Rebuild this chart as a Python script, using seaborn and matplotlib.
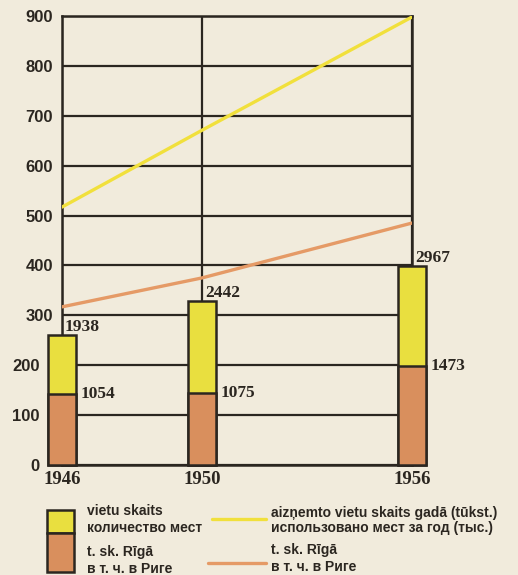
import matplotlib
matplotlib.use("Agg")
import matplotlib.pyplot as plt
import seaborn as sns
import pandas as pd
from matplotlib.patches import Rectangle
from matplotlib.lines import Line2D

# dati no attēla
years = [1946, 1950, 1956]
seats_total = [1938, 2442, 2967]
seats_riga = [1054, 1075, 1473]
used_total = [517, 671, 898]
used_riga = [317, 375, 485]
y_ticks = list(range(0, 1000, 100))

paper = "#f1ebdc"
ink = "#2b2620"
yellow = "#e9df3f"
orange = "#d98f5d"
yellow_line = "#f1e03c"
orange_line = "#e59a66"

sns.set_style("white")
plt.rcParams['font.family'] = ['Liberation Sans', 'DejaVu Sans']

W, H = 518, 575
fx = lambda x: x / W
fy = lambda y: 1 - y / H

fig = plt.figure(figsize=(W / 100, H / 100), dpi=100, facecolor=paper)
ax = fig.add_axes([fx(62), fy(465), 350 / W, 449 / H])
ax.set_facecolor(paper)

df = pd.DataFrame({"year": years, "used": used_total, "riga": used_riga})
sns.lineplot(data=df, x="year", y="used", color=yellow_line, lw=2.4, ax=ax, zorder=3)
sns.lineplot(data=df, x="year", y="riga", color=orange_line, lw=2.4, ax=ax, zorder=3)

ax.set_xlim(1946, 1956)
ax.set_ylim(0, 900)
ax.set_yticks(y_ticks)
ax.set_xticks(years)
ax.grid(True, color=ink, lw=1.6)
for s in ax.spines.values():
    s.set_color(ink)
    s.set_linewidth(1.8)
ax.tick_params(axis="y", length=0, pad=6.5, labelsize=12, colors=ink)
ax.tick_params(axis="x", length=0, pad=4, labelsize=13.5, colors=ink)
# apakšējie skaitļi pabīdīti pa kreisi, lai neiet pāri stabiņam
for tick, v in zip(ax.yaxis.get_major_ticks(), y_ticks):
    if v <= 200:
        tick.set_pad(16)
for lab in ax.get_yticklabels():
    lab.set_fontweight("bold")
for lab in ax.get_xticklabels():
    lab.set_fontweight("bold")
    lab.set_family("Liberation Serif")
ax.set_xlabel("")
ax.set_ylabel("")

# stabiņi - vietu skaits (cita skala)
ax2 = ax.twinx()
ax2.set_ylim(0, 900 * 7.45)
ax2.bar(years, seats_total, width=0.78, color=yellow, edgecolor=ink, lw=1.8, clip_on=False, zorder=4)
ax2.bar(years, seats_riga, width=0.78, color=orange, edgecolor=ink, lw=1.8, clip_on=False, zorder=5)
ax2.set_yticks([])
for s in ax2.spines.values():
    s.set_visible(False)

for yr, t, r in zip(years, seats_total, seats_riga):
    ax2.annotate(str(t), xy=(yr, t), xytext=(2, 0.5), textcoords="offset points",
                 ha="left", va="bottom", fontsize=12.5, fontweight="bold",
                 family="Liberation Serif", color=ink, annotation_clip=False)
    ax2.annotate(str(r), xy=(yr + 0.39, r), xytext=(3.5, 0), textcoords="offset points",
                 ha="left", va="center", fontsize=12.5, fontweight="bold",
                 family="Liberation Serif", color=ink, annotation_clip=False)

# leģenda
fig.add_artist(Rectangle((fx(47), fy(533)), 27 / W, 23 / H, transform=fig.transFigure,
                         facecolor=yellow, edgecolor=ink, lw=1.8))
fig.add_artist(Rectangle((fx(47), fy(572)), 27 / W, 39 / H, transform=fig.transFigure,
                         facecolor=orange, edgecolor=ink, lw=1.8))
fig.add_artist(Line2D([fx(212), fx(266)], [fy(519), fy(519)], transform=fig.transFigure,
                      color=yellow_line, lw=2.4))
fig.add_artist(Line2D([fx(208), fx(266)], [fy(563), fy(563)], transform=fig.transFigure,
                      color=orange_line, lw=2.4))

txt = dict(fontsize=10, fontweight="bold", color=ink, va="center", ha="left")
fig.text(fx(87), fy(511), "vietu skaits", **txt)
fig.text(fx(87), fy(528), "количество мест", **txt)
fig.text(fx(87), fy(552), "t. sk. Rīgā", **txt)
fig.text(fx(87), fy(569), "в т. ч. в Риге", **txt)
fig.text(fx(271), fy(513), "aizņemto vietu skaits gadā (tūkst.)", **txt)
fig.text(fx(271), fy(528), "использовано мест за год (тыс.)", **txt)
fig.text(fx(271), fy(550), "t. sk. Rīgā", **txt)
fig.text(fx(271), fy(567), "в т. ч. в Риге", **txt)

fig.savefig("out.png", dpi=100, facecolor=paper)
